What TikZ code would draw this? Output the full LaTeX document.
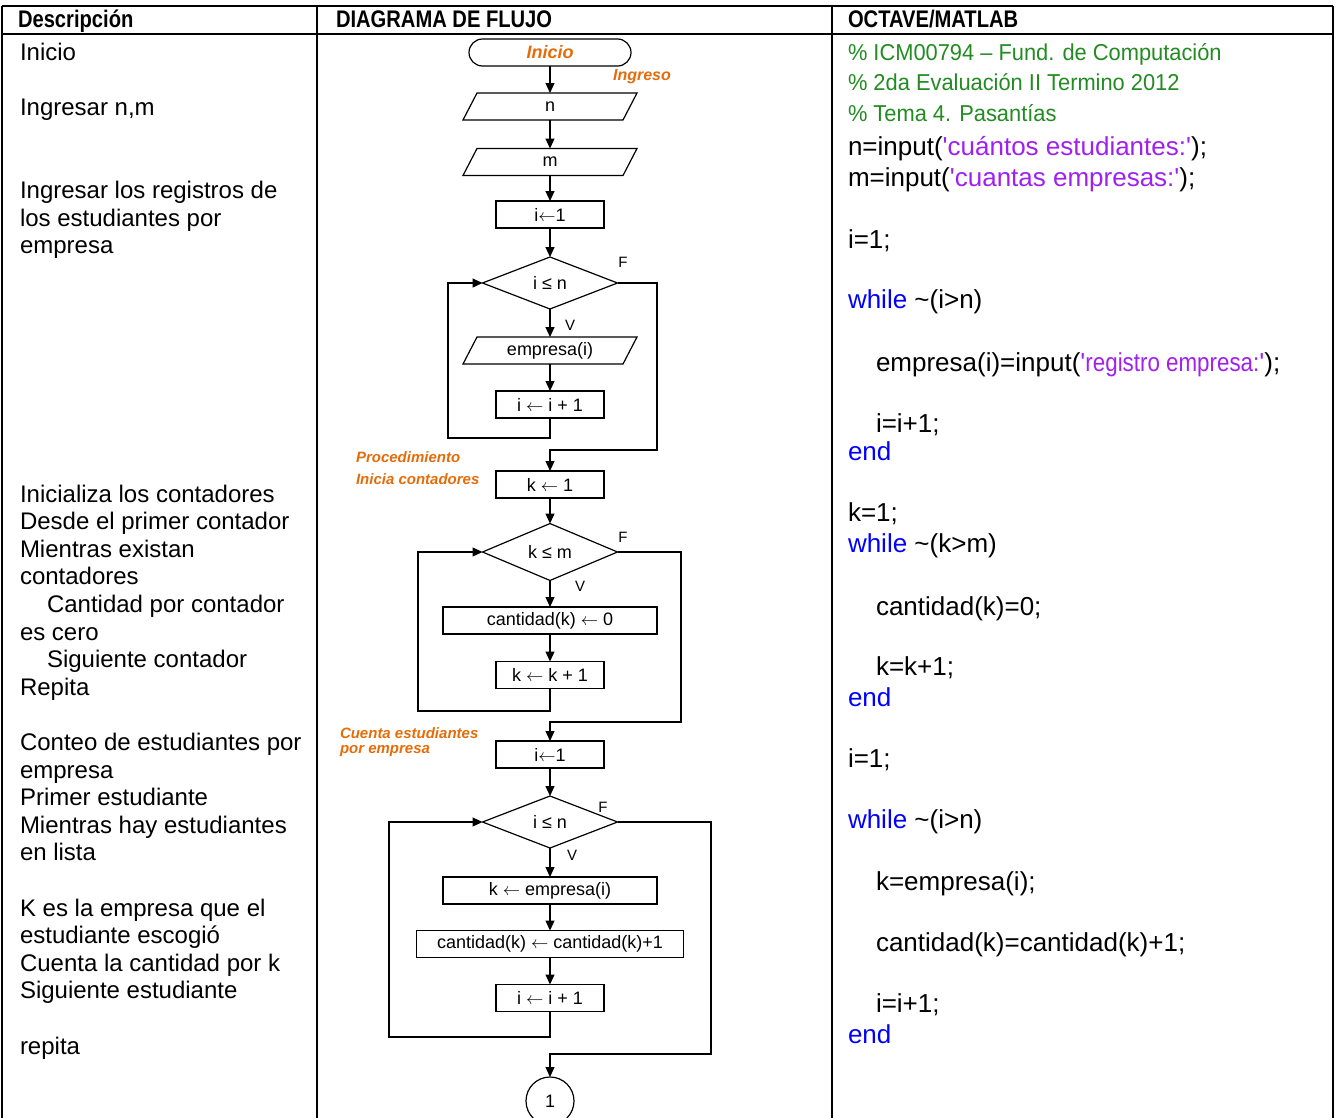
\documentclass[tikz,border=0pt]{standalone}
\usepackage{fontspec}
\setmainfont{Liberation Sans}
\newfontfamily\narrowfont[FakeStretch=0.86]{Liberation Sans}
\newfontfamily\cmtfamily[FakeStretch=0.95]{Liberation Sans}
\newfontfamily\headfont[FakeStretch=0.84]{Liberation Sans}
\usetikzlibrary{arrows.meta,shapes.geometric}
\definecolor{cmtgreen}{RGB}{34,139,34}
\definecolor{strpurple}{RGB}{160,32,240}
\definecolor{kwblue}{RGB}{0,0,255}
\definecolor{lblorange}{RGB}{228,108,10}
\newcommand{\descfont}{\fontsize{24}{28}\selectfont}
\newcommand{\codefont}{\fontsize{26}{31}\selectfont}
\newcommand{\cmtfont}{\cmtfamily\fontsize{23}{28}\selectfont}
\newcommand{\fcfont}{\fontsize{18}{21}\selectfont}
\newcommand{\vffont}{\fontsize{15}{18}\selectfont}
\newcommand{\lblfont}{\fontsize{15}{18}\selectfont\bfseries\itshape}
\newcommand{\hdfont}{\headfont\bfseries\fontsize{24}{27}\selectfont}
\newcommand{\strq}{\textquotesingle}
\newcommand{\la}{$\leftarrow$}
\begin{document}
\begin{tikzpicture}[x=1pt,y=-1pt,
  every node/.style={inner sep=0pt,outer sep=0pt},
  grid/.style={line width=1.8pt},
  flow/.style={line width=1.2pt},
  arr/.style={flow,-{Triangle[length=10pt,width=9pt]}},
  proc/.style={draw,flow,rectangle,minimum height=27pt,minimum width=108pt,font=\fcfont},
  para/.style={rectangle,minimum height=27pt,minimum width=160pt,font=\fcfont},
  dec/.style={draw,flow,diamond,minimum width=135pt,minimum height=52pt,font=\fcfont},
  term/.style={draw,flow,rectangle,rounded corners=13.5pt,minimum width=162pt,minimum height=27pt},
  lbl/.style={font=\lblfont,text=lblorange},
  vf/.style={font=\vffont},
  desc/.style={anchor=base west,font=\descfont},
  code/.style={anchor=base west,font=\codefont},
  cmt/.style={anchor=base west,font=\cmtfont,text=cmtgreen},
  head/.style={anchor=base west,font=\hdfont}]
\useasboundingbox (0,0) rectangle (1336,1117);
\clip (0,0) rectangle (1336,1117);

% table
\draw[grid] (2,6) -- (1333,6);
\draw[grid] (2,34) -- (1333,34);
\draw[grid] (2,6) -- (2,1120);
\draw[grid] (317,6) -- (317,1120);
\draw[grid] (832,6) -- (832,1120);
\draw[grid] (1333,6) -- (1333,1120);

\node[head] (h1) at (18,27.5) {Descripción};
\node[head] (h2) at (336,27.5) {DIAGRAMA DE FLUJO};
\node[head] (h3) at (848,27.5) {OCTAVE/MATLAB};

% description column
\foreach \idx/\ind/\txt [count=\c] in {
  0/0/Inicio, 2/0/{Ingresar n,m}, 5/0/Ingresar los registros de,
  6/0/los estudiantes por, 7/0/empresa,
  16/0/Inicializa los contadores, 17/0/Desde el primer contador,
  18/0/Mientras existan, 19/0/contadores, 20/27/Cantidad por contador,
  21/0/es cero, 22/27/Siguiente contador, 23/0/Repita,
  25/0/Conteo de estudiantes por, 26/0/empresa, 27/0/Primer estudiante,
  28/0/Mientras hay estudiantes, 29/0/en lista,
  31/0/K es la empresa que el, 32/0/estudiante escogió,
  33/0/Cuenta la cantidad por k, 34/0/Siguiente estudiante, 36/0/repita}
  \node[desc] (d\c) at (20+\ind,60.5+27.6*\idx) {\txt};

% code column
\node[cmt] (m1) at (848,60) {\% ICM00794 – Fund. de Computación};
\node[cmt] (m2) at (848,90.5) {\% 2da Evaluación II Termino 2012};
\node[cmt] (m3) at (848,121) {\% Tema 4. Pasantías};
\node[code] (m4) at (848,155) {n=input(\textcolor{strpurple}{\strq cuántos estudiantes:\strq});};
\node[code] (m5) at (848,186) {m=input(\textcolor{strpurple}{\strq cuantas empresas:\strq});};
\node[code] (m6) at (848,248) {i=1;};
\node[code] (m7) at (848,308) {\textcolor{kwblue}{while} \textasciitilde(i>n)};
\node[code] (m8) at (876,371) {empresa(i)=input(\textcolor{strpurple}{\strq{\narrowfont registro empresa:}\strq});};
\node[code] (m9) at (876,432) {i=i+1;};
\node[code,text=kwblue] (m10) at (848,460) {end};
\node[code] (m11) at (848,521) {k=1;};
\node[code] (m12) at (848,552) {\textcolor{kwblue}{while} \textasciitilde(k>m)};
\node[code] (m13) at (876,615) {cantidad(k)=0;};
\node[code] (m14) at (876,675) {k=k+1;};
\node[code,text=kwblue] (m15) at (848,706) {end};
\node[code] (m16) at (848,767) {i=1;};
\node[code] (m17) at (848,828) {\textcolor{kwblue}{while} \textasciitilde(i>n)};
\node[code] (m18) at (876,890) {k=empresa(i);};
\node[code] (m19) at (876,951) {cantidad(k)=cantidad(k)+1;};
\node[code] (m20) at (876,1012) {i=i+1;};
\node[code,text=kwblue] (m21) at (848,1043) {end};

% flowchart
\node[term,font=\fontsize{18}{20}\selectfont\bfseries\itshape,text=lblorange] (ini) at (550,52.5) {Inicio};
\node[lbl,font=\fontsize{16}{18}\selectfont\bfseries\itshape] (lIng) at (642,77) {Ingreso};
\node[para] (pn) at (550,106.5) {n};
\draw[flow] ([xshift=7pt]pn.north west) -- ([xshift=7pt]pn.north east) -- ([xshift=-7pt]pn.south east) -- ([xshift=-7pt]pn.south west) -- cycle;
\node[para] (pm) at (550,162) {m};
\draw[flow] ([xshift=7pt]pm.north west) -- ([xshift=7pt]pm.north east) -- ([xshift=-7pt]pm.south east) -- ([xshift=-7pt]pm.south west) -- cycle;
\node[proc] (i1) at (550,214.5) {i\la1};
\node[dec] (dA) at (550,283) {i ≤ n};
\node[para] (pe) at (550,350.5) {empresa(i)};
\draw[flow] ([xshift=7pt]pe.north west) -- ([xshift=7pt]pe.north east) -- ([xshift=-7pt]pe.south east) -- ([xshift=-7pt]pe.south west) -- cycle;
\node[proc] (incA) at (550,404.5) {i \la{} i + 1};
\node[lbl,anchor=west] (lP1) at (356,457) {Procedimiento};
\node[lbl,anchor=west] (lP2) at (356,479) {Inicia contadores};
\node[proc] (k1) at (550,484.5) {k \la{} 1};
\node[dec] (dB) at (550,552) {k ≤ m};
\node[proc,minimum width=214pt] (c0) at (550,620.5) {cantidad(k) \la{} 0};
\node[proc] (incB) at (550,675) {k \la{} k + 1};
\node[lbl,anchor=west] (lC1) at (340,733) {Cuenta estudiantes};
\node[lbl,anchor=west] (lC2) at (340,751) {por empresa};
\node[proc] (i2) at (550,754.5) {i\la1};
\node[dec] (dC) at (550,822) {i ≤ n};
\node[proc,minimum width=214pt] (ke) at (550,890.5) {k \la{} empresa(i)};
\node[proc,minimum width=267pt] (cc) at (550,944) {cantidad(k) \la{} cantidad(k)+1};
\node[proc] (incC) at (550,998) {i \la{} i + 1};
\node[draw,flow,circle,minimum size=48pt,font=\fcfont] (con) at (550,1101) {1};

\node[vf] (fA) at (623,262) {F};
\node[vf] (vA) at (570,325) {V};
\node[vf] (fB) at (623,537) {F};
\node[vf] (vB) at (580,586) {V};
\node[vf] (fC) at (603,807) {F};
\node[vf] (vC) at (572,855) {V};

\coordinate (lA) at (448,438);
\coordinate (rA) at (657,450);
\coordinate (lB) at (418,711);
\coordinate (rB) at (681,722);
\coordinate (lC) at (389,1037);
\coordinate (rC) at (711,1054);

\draw[arr] (ini) -- (pn);
\draw[arr] (pn) -- (pm);
\draw[arr] (pm) -- (i1);
\draw[arr] (i1) -- (dA);
\draw[arr] (dA) -- (pe);
\draw[arr] (pe) -- (incA);
\draw[arr] (incA.south) |- (lA) |- (dA.west);
\draw[arr] (dA.east) -| (rA) -| (k1.north);
\draw[arr] (k1) -- (dB);
\draw[arr] (dB) -- (c0);
\draw[arr] (c0) -- (incB);
\draw[arr] (incB.south) |- (lB) |- (dB.west);
\draw[arr] (dB.east) -| (rB) -| (i2.north);
\draw[arr] (i2) -- (dC);
\draw[arr] (dC) -- (ke);
\draw[arr] (ke) -- (cc);
\draw[arr] (cc) -- (incC);
\draw[arr] (incC.south) |- (lC) |- (dC.west);
\draw[arr] (dC.east) -| (rC) -| (con.north);
\end{tikzpicture}
\end{document}
